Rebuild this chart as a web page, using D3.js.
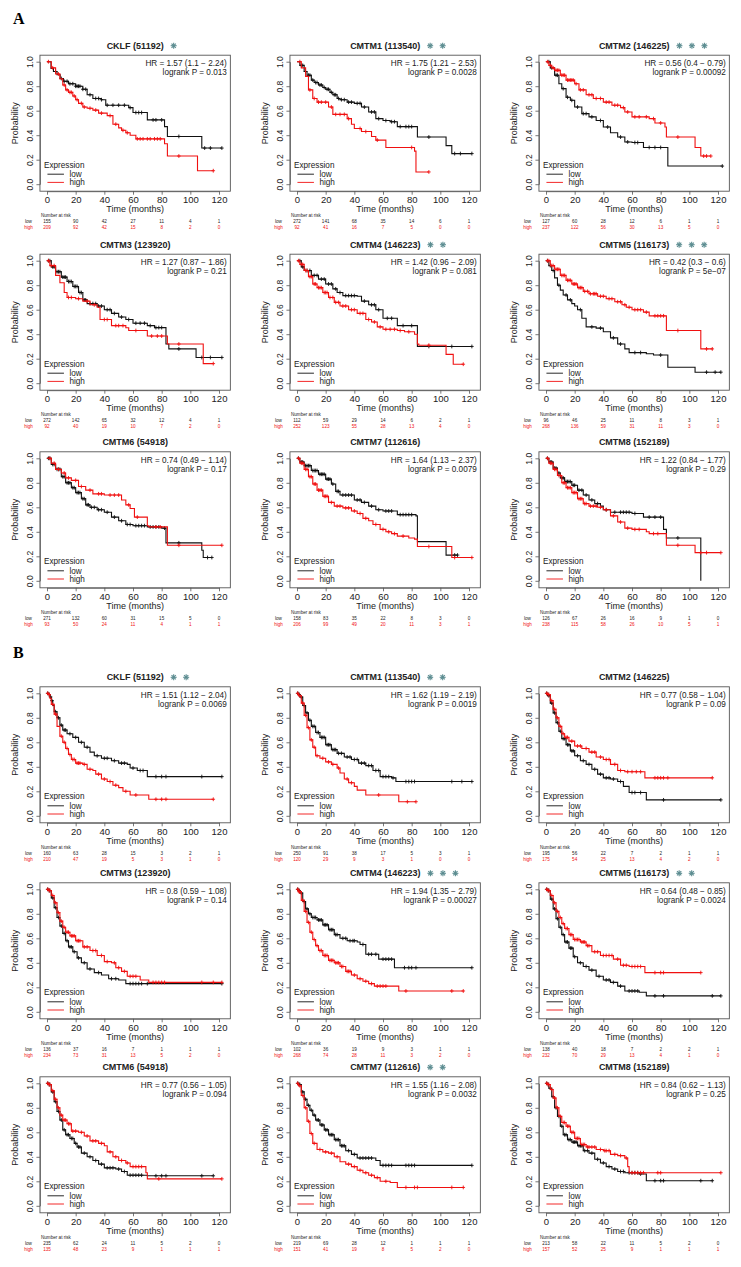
<!DOCTYPE html>
<html>
<head>
<meta charset="utf-8">
<script src="https://cdn.jsdelivr.net/npm/d3@7.9.0/dist/d3.min.js"></script>
<style>
  body { margin: 0; background: #fff; }
  svg { display: block; font-family: "Liberation Sans", Arial, sans-serif; }
</style>
</head>
<body>
<svg id="fig" width="741" height="1267"></svg>
<script>
// ---------- panel text data ----------
const genes = ["CKLF (51192)", "CMTM1 (113540)", "CMTM2 (146225)",
               "CMTM3 (123920)", "CMTM4 (146223)", "CMTM5 (116173)",
               "CMTM6 (54918)", "CMTM7 (112616)", "CMTM8 (152189)"];

const hrA = ["1.57 (1.1 − 2.24)", "1.75 (1.21 − 2.53)", "0.56 (0.4 − 0.79)",
             "1.27 (0.87 − 1.86)", "1.42 (0.96 − 2.09)", "0.42 (0.3 − 0.6)",
             "0.74 (0.49 − 1.14)", "1.64 (1.13 − 2.37)", "1.22 (0.84 − 1.77)"];
const pA = ["0.013", "0.0028", "0.00092", "0.21", "0.081", "5e−07", "0.17", "0.0079", "0.29"];
const starsA = [1, 2, 3, 0, 2, 3, 0, 0, 0];

const hrB = ["1.51 (1.12 − 2.04)", "1.62 (1.19 − 2.19)", "0.77 (0.58 − 1.04)",
             "0.8 (0.59 − 1.08)", "1.94 (1.35 − 2.79)", "0.64 (0.48 − 0.85)",
             "0.77 (0.56 − 1.05)", "1.55 (1.16 − 2.08)", "0.84 (0.62 − 1.13)"];
const pB = ["0.0069", "0.0019", "0.09", "0.14", "0.00027", "0.0024", "0.094", "0.0032", "0.25"];
const starsB = [2, 2, 0, 0, 3, 2, 0, 2, 0];

const riskTimes = [0, 20, 40, 60, 80, 100, 120];
const riskLowA = [[155,90,42,27,11,4,1],[272,141,68,35,14,6,1],[127,60,28,12,6,1,1],
                  [272,142,65,32,12,4,1],[112,59,29,14,6,2,1],[96,46,25,11,8,3,1],
                  [271,132,60,31,15,5,0],[158,83,35,22,8,3,0],[126,67,26,16,9,1,0]];
const riskHighA = [[209,92,42,15,8,2,0],[92,41,16,7,5,0,0],[237,122,56,30,13,5,0],
                   [92,40,19,10,7,2,0],[252,123,55,28,13,4,0],[268,136,59,31,11,3,0],
                   [93,50,24,11,4,1,1],[206,99,49,20,11,3,1],[238,115,58,26,10,5,1]];
const riskLowB = [[160,63,28,15,3,2,1],[250,91,38,17,5,3,1],[195,56,22,7,2,1,1],
                  [136,37,16,7,1,1,1],[102,36,19,9,3,1,1],[138,40,18,7,2,2,1],
                  [235,62,24,11,5,2,0],[219,69,28,12,1,1,1],[213,58,22,11,5,2,0]];
const riskHighB = [[210,47,19,5,3,1,0],[120,29,9,3,1,0,0],[175,54,25,13,4,2,0],
                   [234,73,31,13,5,2,0],[268,74,28,11,3,2,0],[232,70,29,13,4,1,0],
                   [135,48,23,9,1,1,1],[151,41,19,8,5,2,0],[157,52,25,9,1,1,1]];

// ---------- survival curves: [month, survival after step]; last = end of follow-up ----------
// censor arrays: months of censored observations ("+")
const A1_low = [[0,1],[2.8,0.945],[4.5,0.92],[7,0.893],[9.2,0.863],[11.5,0.84],[15,0.82],[20,0.80],[25,0.775],[28,0.73],[32,0.70],[38,0.69],[41,0.645],[57,0.625],[60,0.585],[70,0.525],[82,0.47],[84,0.39],[108,0.295],[122,0.295]];
const A1_lowC = [6,10,12,14,16,18,20,21,22,23,25,27,30,34,36,38,42,46,50,54,58,62,64,66,74,76,80,92,110,114,122];
const A1_high = [[0,1],[3,0.95],[6,0.90],[9,0.86],[11,0.81],[13,0.77],[15,0.75],[18,0.72],[20,0.69],[22,0.66],[25,0.63],[28,0.62],[32,0.605],[36,0.58],[42,0.56],[46,0.49],[50,0.46],[52,0.44],[55,0.42],[58,0.40],[62,0.37],[82,0.33],[84,0.23],[105,0.11],[116,0.11]];
const A1_highC = [1,4,8,12,14,16,17,19,21,24,26,30,34,38,44,48,53,56,63,65,67,70,72,75,77,79,92,116];

const A2_low = [[0,1],[2,0.97],[5,0.92],[7,0.89],[10,0.85],[12,0.83],[15,0.81],[18,0.79],[20,0.775],[23,0.75],[25,0.73],[28,0.70],[30,0.69],[35,0.67],[40,0.66],[45,0.63],[50,0.59],[55,0.535],[60,0.52],[65,0.51],[70,0.47],[84,0.385],[104,0.315],[108,0.25],[122,0.25]];
const A2_lowC = [3,4,6,8,9,11,13,14,16,17,19,21,22,24,26,27,29,31,33,36,38,42,44,47,52,54,57,62,66,68,72,76,78,80,92,110,114,122];
const A2_high = [[0,1],[3,0.95],[6,0.88],[8,0.77],[11,0.70],[14,0.67],[22,0.63],[25,0.57],[35,0.535],[38,0.49],[40,0.455],[45,0.43],[52,0.39],[55,0.36],[62,0.30],[82,0.27],[83,0.10],[92,0.10]];
const A2_highC = [2,9,12,15,17,20,24,27,30,33,36,44,48,56,80,92];

const A3_low = [[0,1],[3,0.95],[6,0.89],[9,0.82],[11,0.78],[14,0.71],[17,0.685],[20,0.63],[25,0.576],[30,0.55],[35,0.52],[40,0.467],[45,0.42],[50,0.385],[55,0.345],[60,0.34],[68,0.30],[85,0.148],[123,0.148]];
const A3_lowC = [2,4,7,8,12,15,18,22,26,28,32,38,43,52,57,62,64,72,76,80,123];
const A3_high = [[0,1],[2,0.97],[4,0.95],[6,0.93],[10,0.89],[14,0.85],[20,0.82],[23,0.77],[28,0.73],[33,0.70],[40,0.67],[46,0.645],[52,0.625],[55,0.59],[60,0.55],[72,0.535],[76,0.50],[83,0.467],[84,0.385],[104,0.30],[108,0.23],[115,0.23]];
const A3_highC = [1,3,5,7,8,9,11,12,13,15,16,17,18,19,21,24,26,30,32,35,38,42,44,48,50,54,57,62,65,70,75,80,92,110,112,115];

const A4_low = [[0,1],[3,0.95],[6,0.91],[10,0.866],[14,0.83],[18,0.79],[22,0.74],[25,0.68],[28,0.65],[35,0.63],[40,0.60],[45,0.57],[50,0.54],[55,0.52],[60,0.49],[70,0.47],[75,0.454],[83,0.32],[85,0.28],[104,0.21],[122,0.21]];
const A4_lowC = [1,2,4,5,7,8,9,11,12,13,15,16,17,19,20,21,23,24,26,27,30,32,34,36,38,42,44,47,52,57,62,65,68,72,76,78,80,92,108,114,122];
const A4_high = [[0,1],[2,0.96],[6,0.88],[9,0.82],[12,0.74],[14,0.70],[20,0.69],[25,0.67],[30,0.64],[35,0.62],[37,0.52],[45,0.47],[55,0.453],[57,0.43],[70,0.385],[84,0.32],[109,0.16],[116,0.16]];
const A4_highC = [1,3,5,15,17,22,28,33,40,42,48,50,53,62,73,77,80,92,116];

const A5_low = [[0,1],[3,0.95],[5,0.92],[10,0.88],[15,0.85],[20,0.81],[25,0.77],[28,0.74],[32,0.715],[42,0.71],[45,0.67],[50,0.64],[55,0.60],[60,0.53],[70,0.47],[84,0.30],[122,0.30]];
const A5_lowC = [2,4,7,9,12,14,17,19,22,24,27,30,34,36,38,40,47,52,54,57,63,66,74,80,92,108,122];
const A5_high = [[0,1],[2,0.97],[5,0.92],[8,0.87],[11,0.81],[14,0.78],[18,0.74],[22,0.70],[26,0.66],[30,0.63],[36,0.60],[42,0.57],[48,0.52],[52,0.50],[56,0.46],[60,0.44],[70,0.43],[75,0.42],[82,0.40],[84,0.32],[85,0.31],[104,0.235],[109,0.155],[116,0.155]];
const A5_highC = [1,3,4,6,7,9,10,12,13,15,16,17,19,20,21,23,25,27,29,32,34,38,40,44,46,50,54,58,62,65,68,72,78,92,116];

const A6_low = [[0,1],[2,0.96],[4,0.92],[6,0.86],[8,0.80],[10,0.76],[12,0.72],[15,0.68],[18,0.65],[20,0.63],[22,0.60],[25,0.53],[28,0.46],[35,0.45],[40,0.42],[45,0.37],[50,0.32],[55,0.28],[58,0.25],[70,0.24],[75,0.23],[85,0.13],[104,0.09],[122,0.09]];
const A6_lowC = [1,3,5,9,14,17,24,32,38,47,52,62,66,80,112,118,122];
const A6_high = [[0,1],[3,0.96],[6,0.93],[10,0.88],[14,0.84],[18,0.81],[22,0.78],[26,0.75],[30,0.73],[36,0.71],[42,0.69],[48,0.665],[53,0.64],[56,0.62],[60,0.60],[68,0.58],[72,0.55],[84,0.43],[108,0.28],[116,0.28]];
const A6_highC = [1,2,4,5,7,8,9,11,12,13,15,16,17,19,20,21,23,24,25,27,29,31,33,34,35,38,40,44,46,50,52,55,58,62,64,66,70,76,78,80,82,92,112,116];

const A7_low = [[0,1],[3,0.95],[6,0.91],[10,0.85],[13,0.80],[17,0.76],[20,0.72],[24,0.67],[27,0.62],[30,0.60],[35,0.58],[40,0.56],[45,0.52],[50,0.49],[55,0.46],[60,0.45],[70,0.44],[80,0.43],[83,0.31],[108,0.25],[109,0.19],[115,0.19]];
const A7_lowC = [1,2,4,5,7,8,9,11,12,14,15,16,18,19,21,22,23,25,26,28,29,31,33,36,38,42,47,52,56,58,62,64,66,68,72,74,76,78,82,92,112,115];
const A7_high = [[0,1],[3,0.96],[6,0.91],[10,0.88],[13,0.84],[17,0.82],[22,0.77],[27,0.74],[32,0.71],[40,0.70],[52,0.66],[55,0.62],[58,0.59],[61,0.52],[70,0.45],[71,0.44],[84,0.29],[122,0.29]];
const A7_highC = [2,5,8,12,15,20,24,30,36,38,44,47,50,57,63,76,79,92,122];

const A8_low = [[0,1],[2,0.97],[5,0.94],[10,0.90],[15,0.87],[20,0.83],[24,0.79],[27,0.73],[30,0.70],[40,0.66],[45,0.64],[50,0.61],[55,0.58],[60,0.57],[70,0.54],[83,0.53],[84,0.32],[104,0.21],[112,0.21]];
const A8_lowC = [1,3,4,6,7,8,9,11,12,13,14,16,17,18,19,21,22,23,25,28,29,32,34,36,38,42,44,47,52,57,62,64,66,72,74,76,78,80,110,112];
const A8_high = [[0,1],[2,0.96],[5,0.91],[8,0.85],[11,0.79],[14,0.74],[18,0.69],[22,0.64],[26,0.61],[32,0.595],[38,0.57],[42,0.55],[46,0.51],[50,0.49],[53,0.46],[58,0.42],[62,0.40],[66,0.385],[70,0.365],[78,0.35],[82,0.34],[84,0.28],[108,0.19],[122,0.19]];
const A8_highC = [1,3,4,6,7,9,10,12,13,15,16,17,19,20,21,24,28,30,34,36,40,44,48,55,60,64,68,74,92,110,122];

const A9_low = [[0,1],[2,0.97],[5,0.92],[8,0.88],[10,0.84],[13,0.81],[18,0.78],[22,0.74],[26,0.70],[30,0.66],[34,0.63],[38,0.61],[40,0.58],[45,0.56],[60,0.55],[68,0.52],[82,0.42],[84,0.35],[108,0]];
const A9_lowC = [1,3,4,6,7,9,11,12,14,15,16,17,19,20,23,25,28,32,36,42,48,52,54,56,58,62,72,76,80,92];
const A9_high = [[0,1],[2,0.96],[5,0.91],[8,0.86],[11,0.80],[14,0.76],[18,0.72],[22,0.67],[26,0.63],[30,0.61],[36,0.60],[40,0.58],[45,0.53],[50,0.48],[55,0.43],[60,0.42],[70,0.40],[72,0.385],[84,0.29],[104,0.23],[122,0.23]];
const A9_highC = [1,3,4,6,7,9,10,12,13,15,16,17,19,20,21,23,24,25,27,28,31,33,35,38,42,47,52,57,62,65,75,78,92,108,112,122];

const B1_low = [[0,1],[1,0.99],[2,0.97],[3,0.94],[4,0.90],[5,0.85],[7,0.80],[9,0.74],[11,0.70],[14,0.67],[18,0.64],[22,0.60],[26,0.56],[30,0.52],[33,0.49],[38,0.47],[45,0.45],[50,0.43],[56,0.42],[58,0.39],[63,0.37],[70,0.32],[122,0.32]];
const B1_lowC = [0.5,1.5,2.5,3.5,6,8,10,12,13,16,20,24,28,35,40,42,47,52,54,60,65,67,76,80,83,108,122];
const B1_high = [[0,1],[1,0.99],[2,0.96],[3,0.91],[5,0.83],[7,0.73],[9,0.65],[11,0.60],[13,0.55],[15,0.50],[17,0.46],[20,0.43],[25,0.42],[28,0.38],[32,0.37],[34,0.34],[38,0.30],[42,0.28],[46,0.25],[50,0.23],[53,0.20],[58,0.17],[71,0.135],[116,0.135]];
const B1_highC = [0.5,1.5,4,6,10,12,14,16,18,19,21,22,23,26,30,36,40,44,48,55,62,76,80,83,116];

const B2_low = [[0,1],[1,0.99],[2,0.97],[4,0.90],[6,0.84],[8,0.78],[10,0.73],[13,0.68],[16,0.64],[20,0.58],[24,0.54],[28,0.51],[33,0.48],[38,0.46],[43,0.43],[48,0.41],[53,0.37],[58,0.32],[66,0.31],[69,0.28],[122,0.28]];
const B2_lowC = [0.5,1.5,3,5,7,9,11,12,14,15,17,18,19,21,22,23,25,26,27,29,31,35,37,40,42,45,47,50,52,55,57,60,62,64,67,76,78,80,82,108,115,122];
const B2_high = [[0,1],[1,0.98],[3,0.92],[5,0.82],[7,0.72],[9,0.62],[11,0.56],[13,0.49],[16,0.47],[20,0.44],[24,0.42],[28,0.39],[30,0.35],[33,0.30],[36,0.27],[40,0.24],[42,0.21],[48,0.17],[71,0.115],[83,0.115]];
const B2_highC = [0.5,2,4,6,8,10,12,14,18,22,25,29,35,38,57,77,83];

const B3_low = [[0,1],[1,0.98],[3,0.92],[5,0.84],[7,0.76],[9,0.69],[11,0.63],[14,0.58],[17,0.53],[20,0.49],[24,0.45],[28,0.42],[32,0.38],[36,0.34],[40,0.31],[45,0.30],[50,0.28],[54,0.24],[58,0.19],[70,0.13],[122,0.13]];
const B3_lowC = [0.5,2,4,6,8,10,12,13,15,16,18,19,22,26,30,34,38,42,44,47,52,60,62,66,82,122];
const B3_high = [[0,1],[1,0.99],[3,0.94],[5,0.87],[7,0.80],[9,0.73],[11,0.67],[13,0.64],[16,0.61],[20,0.57],[25,0.55],[30,0.52],[35,0.48],[40,0.46],[45,0.42],[50,0.37],[55,0.36],[69,0.31],[116,0.31]];
const B3_highC = [0.5,1.5,2,4,6,8,10,12,14,15,18,22,24,28,32,34,38,42,44,48,52,57,60,63,66,76,78,80,82,85,116];

const B4_low = [[0,1],[1,0.99],[3,0.93],[5,0.85],[7,0.77],[9,0.70],[11,0.64],[13,0.58],[15,0.53],[18,0.49],[21,0.44],[24,0.40],[28,0.35],[33,0.32],[38,0.30],[43,0.27],[50,0.26],[55,0.23],[122,0.23]];
const B4_lowC = [0.5,1.5,2,4,6,8,10,12,14,16,17,19,22,26,30,36,45,48,58,60,62,64,66,70,122];
const B4_high = [[0,1],[1,0.99],[3,0.95],[5,0.89],[7,0.81],[9,0.74],[11,0.69],[13,0.65],[16,0.62],[20,0.58],[25,0.53],[30,0.50],[35,0.46],[40,0.41],[45,0.40],[48,0.36],[52,0.33],[56,0.29],[65,0.26],[71,0.24],[122,0.24]];
const B4_highC = [0.5,1.5,2,4,6,8,10,12,14,15,17,18,19,21,22,23,26,28,32,34,38,42,47,50,54,58,60,62,74,76,78,80,82,108,116,122];

const B5_low = [[0,1],[1,0.99],[2,0.97],[4,0.90],[6,0.84],[8,0.80],[10,0.77],[14,0.75],[18,0.71],[22,0.67],[26,0.63],[30,0.60],[35,0.58],[42,0.57],[44,0.55],[48,0.47],[57,0.43],[68,0.36],[122,0.36]];
const B5_lowC = [0.5,1.5,3,5,7,9,11,12,13,15,16,17,19,20,21,23,24,25,27,28,32,34,37,39,40,46,50,52,55,60,62,64,66,75,78,80,83,122];
const B5_high = [[0,1],[1,0.98],[3,0.91],[5,0.82],[7,0.73],[9,0.65],[11,0.59],[13,0.54],[15,0.50],[18,0.46],[22,0.42],[26,0.40],[30,0.37],[34,0.33],[38,0.30],[42,0.27],[46,0.25],[50,0.23],[54,0.21],[71,0.17],[116,0.17]];
const B5_highC = [0.5,1.5,2,4,6,8,10,12,14,16,17,19,20,21,23,24,25,27,28,29,31,32,35,36,37,40,44,48,52,56,58,60,62,76,108,116];

const B6_low = [[0,1],[1,0.99],[3,0.92],[5,0.84],[7,0.76],[9,0.69],[11,0.63],[13,0.57],[16,0.52],[19,0.45],[22,0.40],[26,0.37],[30,0.34],[35,0.29],[40,0.26],[45,0.24],[50,0.21],[55,0.17],[65,0.16],[70,0.13],[122,0.13]];
const B6_lowC = [0.5,1.5,2,4,6,8,10,12,14,15,17,18,20,24,28,32,37,42,44,47,52,58,60,62,64,76,82,116,122];
const B6_high = [[0,1],[1,0.99],[3,0.95],[5,0.89],[7,0.82],[9,0.77],[11,0.72],[13,0.68],[16,0.63],[19,0.59],[24,0.57],[28,0.54],[32,0.49],[38,0.46],[47,0.43],[52,0.38],[58,0.37],[69,0.32],[108,0.32]];
const B6_highC = [0.5,1.5,2,4,6,8,10,12,14,15,17,18,20,21,22,23,25,26,27,29,30,34,36,40,42,44,46,50,54,56,60,62,64,66,76,80,82,108];

const B7_low = [[0,1],[1,0.99],[3,0.93],[5,0.85],[7,0.77],[9,0.70],[11,0.62],[13,0.58],[16,0.55],[19,0.51],[21,0.48],[24,0.43],[28,0.40],[32,0.37],[36,0.34],[40,0.31],[48,0.30],[52,0.28],[56,0.25],[70,0.245],[116,0.245]];
const B7_lowC = [0.5,1.5,2,4,6,8,10,12,14,15,17,18,20,22,23,26,30,34,38,42,44,46,50,54,58,60,62,64,66,76,80,83,108,116];
const B7_high = [[0,1],[1,0.99],[3,0.94],[5,0.87],[7,0.80],[9,0.74],[11,0.70],[14,0.67],[17,0.61],[22,0.60],[26,0.57],[30,0.53],[36,0.51],[40,0.49],[42,0.44],[46,0.40],[50,0.37],[55,0.35],[58,0.32],[69,0.27],[70,0.22],[122,0.22]];
const B7_highC = [0.5,1.5,2,4,6,8,10,12,13,15,16,18,20,24,28,32,34,38,44,48,52,56,60,62,64,66,78,122];

const B8_low = [[0,1],[1,0.99],[3,0.93],[5,0.87],[7,0.82],[9,0.78],[11,0.74],[13,0.70],[16,0.66],[19,0.62],[22,0.58],[26,0.54],[30,0.49],[34,0.45],[38,0.42],[42,0.39],[55,0.37],[58,0.33],[122,0.33]];
const B8_lowC = [0.5,1.5,2,4,6,8,10,12,14,15,17,18,20,21,23,24,25,27,28,29,31,32,33,36,40,44,46,48,50,52,60,62,64,66,76,78,80,82,122];
const B8_high = [[0,1],[1,0.98],[3,0.90],[5,0.80],[7,0.69],[9,0.59],[11,0.51],[14,0.46],[18,0.44],[22,0.43],[26,0.40],[30,0.36],[34,0.34],[38,0.32],[42,0.29],[46,0.27],[50,0.25],[54,0.23],[58,0.20],[65,0.19],[70,0.15],[116,0.15]];
const B8_highC = [0.5,2,4,6,8,10,12,16,20,24,28,36,40,44,48,52,56,62,76,82,84,108,116];

const B9_low = [[0,1],[1,0.99],[2,0.96],[4,0.89],[6,0.80],[8,0.73],[10,0.65],[12,0.58],[15,0.54],[18,0.52],[22,0.49],[26,0.45],[30,0.43],[34,0.38],[38,0.35],[42,0.32],[46,0.30],[50,0.28],[55,0.27],[65,0.26],[70,0.205],[116,0.205]];
const B9_lowC = [0.5,1.5,3,5,7,9,11,13,14,16,17,19,20,21,23,24,25,27,29,32,36,40,44,48,52,54,58,60,62,64,66,76,80,82,108,116];
const B9_high = [[0,1],[1,0.99],[3,0.95],[5,0.88],[7,0.80],[9,0.73],[11,0.68],[14,0.65],[17,0.60],[20,0.55],[24,0.50],[28,0.48],[35,0.46],[40,0.45],[45,0.42],[50,0.41],[55,0.39],[57,0.32],[58,0.27],[122,0.27]];
const B9_highC = [0.5,1.5,2,4,6,8,10,12,13,15,16,18,19,21,22,23,25,26,27,29,30,32,34,38,41,42,44,48,52,56,60,62,64,66,68,78,80,122];

const curvesA = [[A1_low,A1_lowC,A1_high,A1_highC],[A2_low,A2_lowC,A2_high,A2_highC],[A3_low,A3_lowC,A3_high,A3_highC],
                 [A4_low,A4_lowC,A4_high,A4_highC],[A5_low,A5_lowC,A5_high,A5_highC],[A6_low,A6_lowC,A6_high,A6_highC],
                 [A7_low,A7_lowC,A7_high,A7_highC],[A8_low,A8_lowC,A8_high,A8_highC],[A9_low,A9_lowC,A9_high,A9_highC]];
const curvesB = [[B1_low,B1_lowC,B1_high,B1_highC],[B2_low,B2_lowC,B2_high,B2_highC],[B3_low,B3_lowC,B3_high,B3_highC],
                 [B4_low,B4_lowC,B4_high,B4_highC],[B5_low,B5_lowC,B5_high,B5_highC],[B6_low,B6_lowC,B6_high,B6_highC],
                 [B7_low,B7_lowC,B7_high,B7_highC],[B8_low,B8_lowC,B8_high,B8_highC],[B9_low,B9_lowC,B9_high,B9_highC]];

///////////////////////////////////////////////////////

// layout
const colX0 = [47, 297, 546];                                   // x of month 0
const rowY1 = [61.7, 260.7, 458.3, 693.3, 889.3, 1083.3];       // y of probability 1.0
const plotW = 172, plotH = 122.5;
const LOW = "#111", HIGH = "#f01010", AXIS = "#555", STAR = "#5b8c90";

const svg = d3.select("#fig");

// FUNCTION step path of a KM curve
function stepPath(pts, x, y) {
    let d = `M${x(pts[0][0])},${y(pts[0][1])}`;
    for (let i = 1; i < pts.length; i++) {
        d += `H${x(pts[i][0])}V${y(pts[i][1])}`;
    }
    return d;
}

// FUNCTION survival value at time t
function survAt(pts, t) {
    let s = pts[0][1];
    for (const p of pts) {
        if (p[0] <= t) s = p[1];
        else break;
    }
    return s;
}

// FUNCTION render one KM panel
function renderPanel(row, col, gene, hr, p, nStars, rLow, rHigh, curves) {
    const x0 = colX0[col], y1 = rowY1[row], y0 = y1 + plotH;
    const x = d3.scaleLinear().domain([0, 120]).range([x0, x0 + plotW]);
    const y = d3.scaleLinear().domain([0, 1]).range([y0, y1]);
    const boxL = x(-4.92), boxR = x(127.92), boxT = y1 - 6.5, boxB = y0 + 7;
    const cx = (boxL + boxR) / 2;

    const g = svg.append("g");

    // box
    g.append("rect")
        .attr("x", boxL).attr("y", boxT)
        .attr("width", boxR - boxL).attr("height", boxB - boxT)
        .attr("fill", "none").attr("stroke", AXIS).attr("stroke-width", 0.9);

    // x axis
    const xa = g.append("g")
        .attr("transform", `translate(0,${boxB})`)
        .call(d3.axisBottom(x).tickValues(riskTimes).tickSize(3.5).tickSizeOuter(0).tickPadding(1.5));
    xa.selectAll("path,line").attr("stroke", AXIS).attr("stroke-width", 0.8);
    xa.selectAll("text").attr("font-size", 9.5).attr("fill", "#222")
        .attr("font-family", "Liberation Sans, Arial, sans-serif");

    // y axis
    const ya = g.append("g")
        .attr("transform", `translate(${boxL},0)`)
        .call(d3.axisLeft(y).tickValues([0, 0.2, 0.4, 0.6, 0.8, 1]).tickFormat(d3.format(".1f"))
            .tickSize(3.5).tickSizeOuter(0));
    ya.selectAll("path,line").attr("stroke", AXIS).attr("stroke-width", 0.8);
    ya.selectAll("text")
        .attr("x", null).attr("dy", null)
        .attr("text-anchor", "middle")
        .attr("transform", "translate(-6.5,0) rotate(-90)")
        .attr("font-size", 8.5).attr("fill", "#222")
        .attr("font-family", "Liberation Sans, Arial, sans-serif");

    // axis labels
    g.append("text")
        .attr("x", cx).attr("y", y0 + 28)
        .attr("text-anchor", "middle").attr("font-size", 9).attr("fill", "#222")
        .text("Time (months)");
    g.append("text")
        .attr("transform", `translate(${boxL - 21.5},${(boxT + boxB) / 2}) rotate(-90)`)
        .attr("text-anchor", "middle").attr("font-size", 9).attr("fill", "#222")
        .text("Probability");

    // title + significance stars
    const title = g.append("text")
        .attr("x", cx).attr("y", y1 - 13)
        .attr("text-anchor", "middle").attr("font-size", 9).attr("font-weight", "bold")
        .attr("fill", "#222")
        .text(gene);
    const tEnd = cx + title.node().getComputedTextLength() / 2;
    d3.range(nStars).forEach(k => {
        const sx = tEnd + 10 + k * 12.5, sy = y1 - 16;
        const st = g.append("g").attr("transform", `translate(${sx},${sy})`);
        [0, 45, 90, 135].forEach(a => {
            st.append("line")
                .attr("x1", -3).attr("x2", 3).attr("y1", 0).attr("y2", 0)
                .attr("transform", `rotate(${a})`)
                .attr("stroke", STAR).attr("stroke-width", 1.1);
        });
    });

    // HR and logrank p
    g.append("text")
        .attr("x", boxR - 3.5).attr("y", y1 + 4.5)
        .attr("text-anchor", "end").attr("font-size", 8.2).attr("fill", "#222")
        .text(`HR = ${hr}`);
    g.append("text")
        .attr("x", boxR - 3.5).attr("y", y1 + 13.5)
        .attr("text-anchor", "end").attr("font-size", 8.2).attr("fill", "#222")
        .text(`logrank P = ${p}`);

    // curves
    const [low, lowC, high, highC] = curves;
    [[low, lowC, LOW], [high, highC, HIGH]].forEach(([pts, cens, color]) => {
        g.append("path")
            .attr("d", stepPath(pts, x, y))
            .attr("fill", "none").attr("stroke", color).attr("stroke-width", 1.1);
        g.selectAll(null)
            .data(cens)
            .enter()
            .append("path")
            .attr("d", t => {
                const px = x(t), py = y(survAt(pts, t));
                return `M${px - 1.8},${py}H${px + 1.8}M${px},${py - 1.9}V${py + 1.9}`;
            })
            .attr("stroke", color).attr("stroke-width", 0.9);
    });

    // legend
    g.append("text")
        .attr("x", boxL + 4).attr("y", y0 - 16.5)
        .attr("font-size", 8.2).attr("fill", "#222")
        .text("Expression");
    [["low", LOW, y0 - 10], ["high", HIGH, y0 - 1.8]].forEach(([lab, color, ly]) => {
        g.append("line")
            .attr("x1", boxL + 7.5).attr("x2", boxL + 24)
            .attr("y1", ly).attr("y2", ly)
            .attr("stroke", color).attr("stroke-width", 0.9);
        g.append("text")
            .attr("x", boxL + 29.5).attr("y", ly + 3)
            .attr("font-size", 8.2).attr("fill", "#222")
            .text(lab);
    });

    // number at risk table
    g.append("text")
        .attr("x", x0 - 6).attr("y", y0 + 33)
        .attr("font-size", 4.6).attr("fill", "#222")
        .text("Number at risk");
    [["low", rLow, "#222", y0 + 39], ["high", rHigh, HIGH, y0 + 45]].forEach(([lab, vals, color, ty]) => {
        g.append("text")
            .attr("x", x0 - 18.5).attr("y", ty)
            .attr("text-anchor", "middle").attr("font-size", 4.6).attr("fill", color)
            .text(lab);
        g.selectAll(null)
            .data(vals)
            .enter()
            .append("text")
            .attr("x", (d, i) => x(riskTimes[i]))
            .attr("y", ty)
            .attr("text-anchor", "middle").attr("font-size", 4.6).attr("fill", color)
            .text(d => d);
    });
}

// panel letters
svg.append("text").attr("x", 13).attr("y", 24)
    .attr("font-family", "Liberation Serif, Times New Roman, serif")
    .attr("font-weight", "bold").attr("font-size", 16).text("A");
svg.append("text").attr("x", 13).attr("y", 658)
    .attr("font-family", "Liberation Serif, Times New Roman, serif")
    .attr("font-weight", "bold").attr("font-size", 16).text("B");

// render all 18 panels
genes.forEach((gene, k) => {
    const r = Math.floor(k / 3), c = k % 3;
    renderPanel(r, c, gene, hrA[k], pA[k], starsA[k], riskLowA[k], riskHighA[k], curvesA[k]);
    renderPanel(r + 3, c, gene, hrB[k], pB[k], starsB[k], riskLowB[k], riskHighB[k], curvesB[k]);
});
</script>
</body>
</html>
